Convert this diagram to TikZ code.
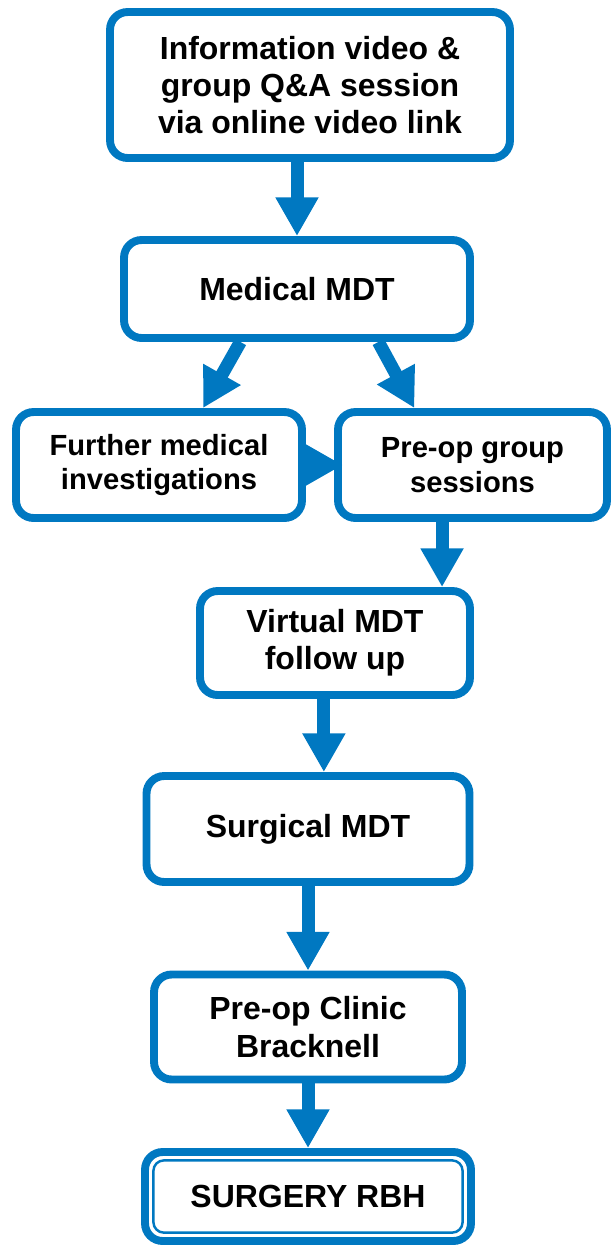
\documentclass[tikz,border=0pt]{standalone}
\usepackage{fontspec}
\setmainfont{Liberation Sans}
\usetikzlibrary{arrows.meta,calc}
\definecolor{flowblue}{HTML}{0078C1}

\tikzset{
  stepbox/.style={draw=flowblue,line width=4.5pt,rounded corners=10pt,fill=white,
    align=center,inner sep=0pt,font=\fontsize{18.2}{21.3}\selectfont\bfseries},
  smalltext/.style={font=\fontsize{16.6}{19.9}\selectfont\bfseries},
  flowarrow/.style={flowblue,line width=7.4pt,-{Triangle[length=22pt,width=23pt]}},
}

\begin{document}
\begin{tikzpicture}[x=0.02cm,y=-0.02cm]
  \useasboundingbox (0,0) rectangle (611,1245);
  % boxes
  \node[stepbox,minimum width=8cm,minimum height=2.92cm] (info) at (310,85)
    {Information video \&\\group Q\&A session\\via online video link};
  \node[stepbox,minimum width=6.92cm,minimum height=1.96cm] (med) at (297,289) {Medical MDT};
  \node[stepbox,smalltext,minimum width=5.72cm,minimum height=2.12cm] (further) at (159,465)
    {Further medical\\investigations};
  \node[stepbox,smalltext,minimum width=5.38cm,minimum height=2.12cm] (preop) at (472.5,465)
    {Pre-op group\\sessions};
  \node[stepbox,minimum width=5.4cm,minimum height=2.08cm] (virtual) at (335,643)
    {Virtual MDT\\follow up};
  \node[stepbox,minimum width=6.46cm,minimum height=2.12cm] (surgical) at (308,829) {Surgical MDT};
  \node[stepbox,minimum width=6.16cm,minimum height=2.1cm] (clinic) at (308,1027)
    {Pre-op Clinic\\Bracknell};
  \node[stepbox,minimum width=6.52cm,minimum height=1.78cm] (surg) at (308,1196.5) {SURGERY RBH};
  \draw[flowblue,line width=1.4pt,rounded corners=6pt]
    ([xshift=7pt,yshift=-7pt]surg.north west) rectangle ([xshift=-7pt,yshift=7pt]surg.south east);
  % arrows
  \draw[flowarrow] (med.north |- info.south) -- (med.north);
  \draw[flowarrow] ($(med.south west)!0.34!(med.south east)$) -- ($(further.north west)!0.65!(further.north east)$);
  \draw[flowarrow] ($(med.south west)!0.73!(med.south east)$) -- ($(preop.north west)!0.29!(preop.north east)$);
  \draw[flowarrow] (further.east) -- ([xshift=5pt]preop.west);
  \draw[flowarrow] ($(preop.south west)!0.39!(preop.south east)$) coordinate (p1) -- (p1 |- virtual.north);
  \draw[flowarrow] ($(virtual.south west)!0.46!(virtual.south east)$) coordinate (v1) -- (v1 |- surgical.north);
  \draw[flowarrow] (surgical.south) -- (clinic.north);
  \draw[flowarrow] (clinic.south) -- (surg.north);
\end{tikzpicture}
\end{document}
